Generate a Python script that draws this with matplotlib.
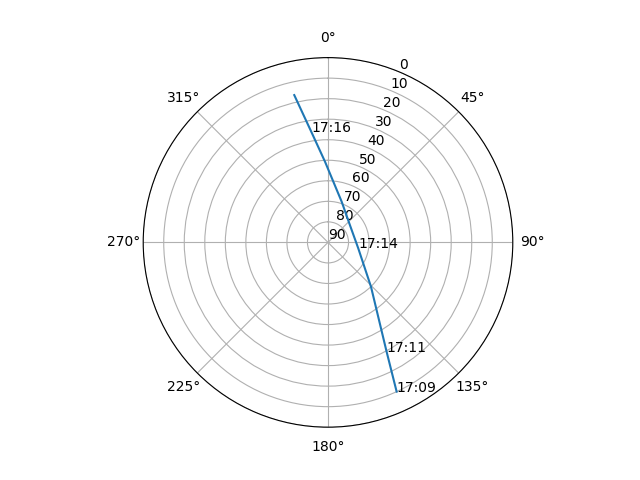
import numpy as np
import matplotlib
matplotlib.use('Agg')
import matplotlib.pyplot as plt

# satellite pass: azimuth (deg, from north, clockwise) and elevation (deg)
azimuth = [155.3, 151.8, 135.9, 101.0, 90.0, 51.7, 18.6, 357.9, 351.5, 347.1]
elevation = [10.0, 29.6, 59.9, 75.0, 76.3, 76.4, 69.1, 50.7, 35.8, 16.4]
time_labels = ['17:09', '17:11', '', '17:14', '', '', '', '', '17:16', '']

r_ticks = [0, 10, 20, 30, 40, 50, 60, 70, 80, 90]


def main():
    fig = plt.figure(figsize=(6.4, 4.8), dpi=100)
    ax = fig.add_subplot(projection='polar')
    ax.set_theta_zero_location('N')
    ax.set_theta_direction(-1)

    theta = np.radians(azimuth)
    ax.plot(theta, elevation)

    # time stamps along the track
    for t, el, lab in zip(theta, elevation, time_labels):
        if lab:
            ax.text(t, el, lab)

    ax.set_ylim(90, 0)
    ax.set_yticks(r_ticks)
    ax.set_yticklabels([str(v) for v in r_ticks])

    plt.savefig('out.png', dpi=100)


if __name__ == '__main__':
    main()
